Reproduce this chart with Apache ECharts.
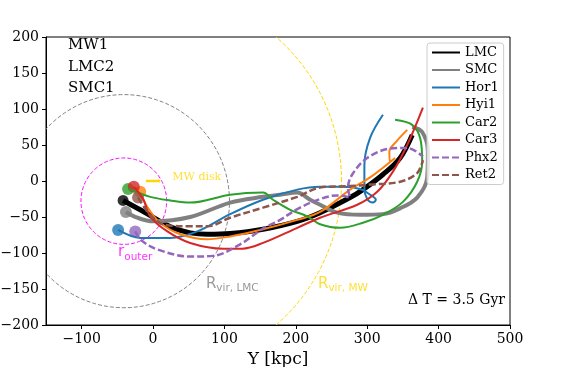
<!DOCTYPE html>
<html>
<head>
<meta charset="utf-8">
<script src="https://cdn.jsdelivr.net/npm/echarts@6/dist/echarts.min.js"></script>
<style>
  html, body { margin: 0; padding: 0; background: #fff; }
  #chart { width: 571px; height: 367px; }
</style>
</head>
<body>
<div id="chart"></div>
<script>
// orbits in the Y-Z plane [kpc], first point = present day position
var lmcTrack = [[-42,-27],[-18,-40],[10,-56],[28,-65],[52,-72],[76,-74],[108,-73],[154,-67],[202,-56],[234,-44],[276,-23],[294,-12],[322,9],[346,32],[363,64]];
var smcTrack = [[-38,-43],[-22,-51],[0,-56],[52,-50],[108,-30],[154,-22],[178,-19],[202,-16],[220,-26],[234,-33],[258,-44],[290,-47],[322,-46],[346,-38],[370,-23],[384,5],[385,41],[377,68],[363,75]];
var hor1Track = [[-49,-68],[-18,-79],[24,-79],[62,-70],[108,-46],[154,-26],[202,-12],[234,-8],[266,-8],[290,-11],[304,-19],[312,-26],[308,-30],[300,-25],[296,-10],[296,22],[304,60],[322,92]];
var hyi1Track = [[-18,-15],[-8,-36],[10,-58],[38,-74],[76,-81],[108,-77],[154,-67],[202,-54],[234,-43],[276,-12],[304,5],[339,32],[332,27],[331,41],[340,54],[356,71]];
var car2Track = [[-35,-11],[-4,-22],[24,-27],[52,-30],[108,-19],[154,-16],[168,-26],[192,-40],[216,-49],[234,-60],[262,-65],[294,-58],[322,-47],[350,-29],[370,-1],[377,27],[374,60],[363,78],[339,85]];
var car3Track = [[-27,-8],[-14,-25],[-4,-49],[20,-70],[52,-86],[98,-94],[125,-94],[154,-86],[202,-65],[234,-51],[286,-33],[314,-15],[336,13],[356,50],[378,102]];
var phx2Track = [[-25,-70],[-17,-82],[6,-95],[52,-105],[84,-104],[122,-88],[154,-66],[178,-54],[202,-39],[234,-25],[258,-20],[276,-23],[273,-10],[279,9],[300,32],[332,45],[356,46],[378,34]];
var ret2Track = [[-21,-23],[-4,-47],[17,-61],[52,-63],[76,-63],[108,-51],[154,-37],[202,-22],[234,-9],[276,-7],[304,-5],[346,-1],[370,11],[378,29]];

var names = ['LMC', 'SMC', 'Hor1', 'Hyi1', 'Car2', 'Car3', 'Phx2', 'Ret2'];
var tracks = [lmcTrack, smcTrack, hor1Track, hyi1Track, car2Track, car3Track, phx2Track, ret2Track];

// circles: [centre Y, centre Z, radius]
var rVirLmc = [-41, -28, 148];
var rOuter = [-41, -28, 60];
var rVirMw = [0, 0, 264];
var mwDisk = [[-10, 0], [10, 0]];

var xTicks = [-100, 0, 100, 200, 300, 400, 500];
var yTicks = [-200, -150, -100, -50, 0, 50, 100, 150, 200];

var colors = ['#000000', '#808080', '#1f77b4', '#ff7f0e', '#2ca02c', '#d62728', '#9467bd', '#8c564b'];
var widths = [5, 4, 2, 2, 2, 2, 2.5, 2.5];
var serif = 'DejaVu Serif';
var sans = 'DejaVu Sans';

function minus(v) {
  return String(v).replace('-', '\u2212');
}

function circleItem(params, api) {
  var cx = api.value(0), cy = api.value(1), r = api.value(2);
  var pts = [];
  for (var k = 0; k <= 200; k++) {
    var a = k / 200 * Math.PI * 2;
    pts.push(api.coord([cx + r * Math.cos(a), cy + r * Math.sin(a)]));
  }
  return {
    type: 'polyline',
    shape: { points: pts },
    style: { fill: null, stroke: api.visual('color'), lineWidth: 1, lineDash: [4, 2] }
  };
}

function circleSeries(c, color) {
  return {
    type: 'custom',
    renderItem: circleItem,
    clip: true,
    silent: true,
    itemStyle: { color: color },
    data: [c]
  };
}

// label placed in data coords, big letter + subscript
function subLabel(pos, main, sub, color, mainSize) {
  return {
    type: 'scatter',
    symbolSize: 0,
    silent: true,
    data: [pos],
    label: {
      show: true,
      position: 'right',
      distance: 0,
      formatter: '{a|' + main + '}{b|' + sub + '}',
      rich: {
        a: { fontFamily: sans, fontSize: mainSize, color: color, lineHeight: 20, verticalAlign: 'middle' },
        b: { fontFamily: sans, fontSize: 10.5, color: color, lineHeight: 20, verticalAlign: 'bottom' }
      }
    }
  };
}

var series = [
  circleSeries(rVirLmc, '#808080'),
  circleSeries(rOuter, '#ff00ff'),
  circleSeries(rVirMw, '#ffd700')
];

for (var i = 0; i < names.length; i++) {
  series.push({
    name: names[i],
    type: 'line',
    data: tracks[i],
    symbol: 'none',
    smooth: 0.35,
    color: colors[i],
    lineStyle: {
      color: colors[i],
      width: widths[i],
      type: (names[i] === 'Phx2' || names[i] === 'Ret2') ? [7, 3] : 'solid'
    }
  });
}

series.push({
  type: 'line',
  data: mwDisk,
  symbol: 'none',
  silent: true,
  lineStyle: { color: '#ffd700', width: 2.5 }
});

// present day positions
series.push({
  type: 'scatter',
  silent: true,
  symbolSize: 12,
  data: tracks.map(function (t, k) {
    return { value: t[0], itemStyle: { color: colors[k] }, symbolSize: k === 0 ? 11 : 12 };
  })
});

series.push({
  type: 'scatter',
  symbolSize: 0,
  silent: true,
  data: [[27, 6]],
  label: { show: true, position: 'right', distance: 0, formatter: 'MW disk', fontFamily: serif, fontSize: 11, color: '#ffd700' }
});
series.push(subLabel([-49, -99], 'r', 'outer', '#ff00ff', 15));
series.push(subLabel([74, -143], 'R', 'vir, LMC', '#808080', 15));
series.push(subLabel([231, -143], 'R', 'vir, MW', '#ffd700', 15));

var chart = echarts.init(document.getElementById('chart'), null, { renderer: 'canvas' });
chart.setOption({
  animation: false,
  grid: {
    left: 46, right: 61, top: 37, bottom: 42,
    outerBoundsMode: 'none',
    show: true, borderColor: '#000', borderWidth: 1, backgroundColor: 'transparent'
  },
  xAxis: {
    type: 'value',
    min: -150,
    max: 500,
    name: 'Y [kpc]',
    nameLocation: 'middle',
    nameGap: 18,
    nameTextStyle: { fontFamily: serif, fontSize: 17, color: '#000' },
    axisLine: { show: true, onZero: false, lineStyle: { color: '#000', width: 1 } },
    axisTick: { show: true, length: 4, customValues: xTicks, lineStyle: { color: '#000' } },
    axisLabel: { customValues: xTicks, formatter: minus, margin: 7, fontFamily: serif, fontSize: 14, color: '#000' },
    splitLine: { show: false }
  },
  yAxis: {
    type: 'value',
    min: -200,
    max: 200,
    interval: 50,
    axisLine: { show: true, onZero: false, lineStyle: { color: '#000', width: 1 } },
    axisTick: { show: true, length: 4, lineStyle: { color: '#000' } },
    axisLabel: { formatter: minus, margin: 7, fontFamily: serif, fontSize: 14, color: '#000' },
    splitLine: { show: false }
  },
  legend: {
    data: names,
    orient: 'vertical',
    left: 427,
    top: 43,
    itemWidth: 28,
    itemHeight: 14,
    itemGap: 4.5,
    padding: [3, 5, 3, 4],
    backgroundColor: 'rgba(255,255,255,0.8)',
    borderColor: '#cccccc',
    borderWidth: 1,
    borderRadius: 3,
    itemStyle: { opacity: 0 },
    textStyle: { fontFamily: serif, fontSize: 13, color: '#000' }
  },
  graphic: [
    { type: 'text', left: 68, top: 38, style: { text: 'MW1', fontFamily: serif, fontSize: 15, fill: '#000' } },
    { type: 'text', left: 68, top: 60, style: { text: 'LMC2', fontFamily: serif, fontSize: 15, fill: '#000' } },
    { type: 'text', left: 68, top: 81, style: { text: 'SMC1', fontFamily: serif, fontSize: 15, fill: '#000' } },
    { type: 'text', right: 66, top: 293, style: { text: '\u0394 T = 3.5 Gyr', fontFamily: serif, fontSize: 14, fill: '#000' } }
  ],
  series: series
});
</script>
</body>
</html>
